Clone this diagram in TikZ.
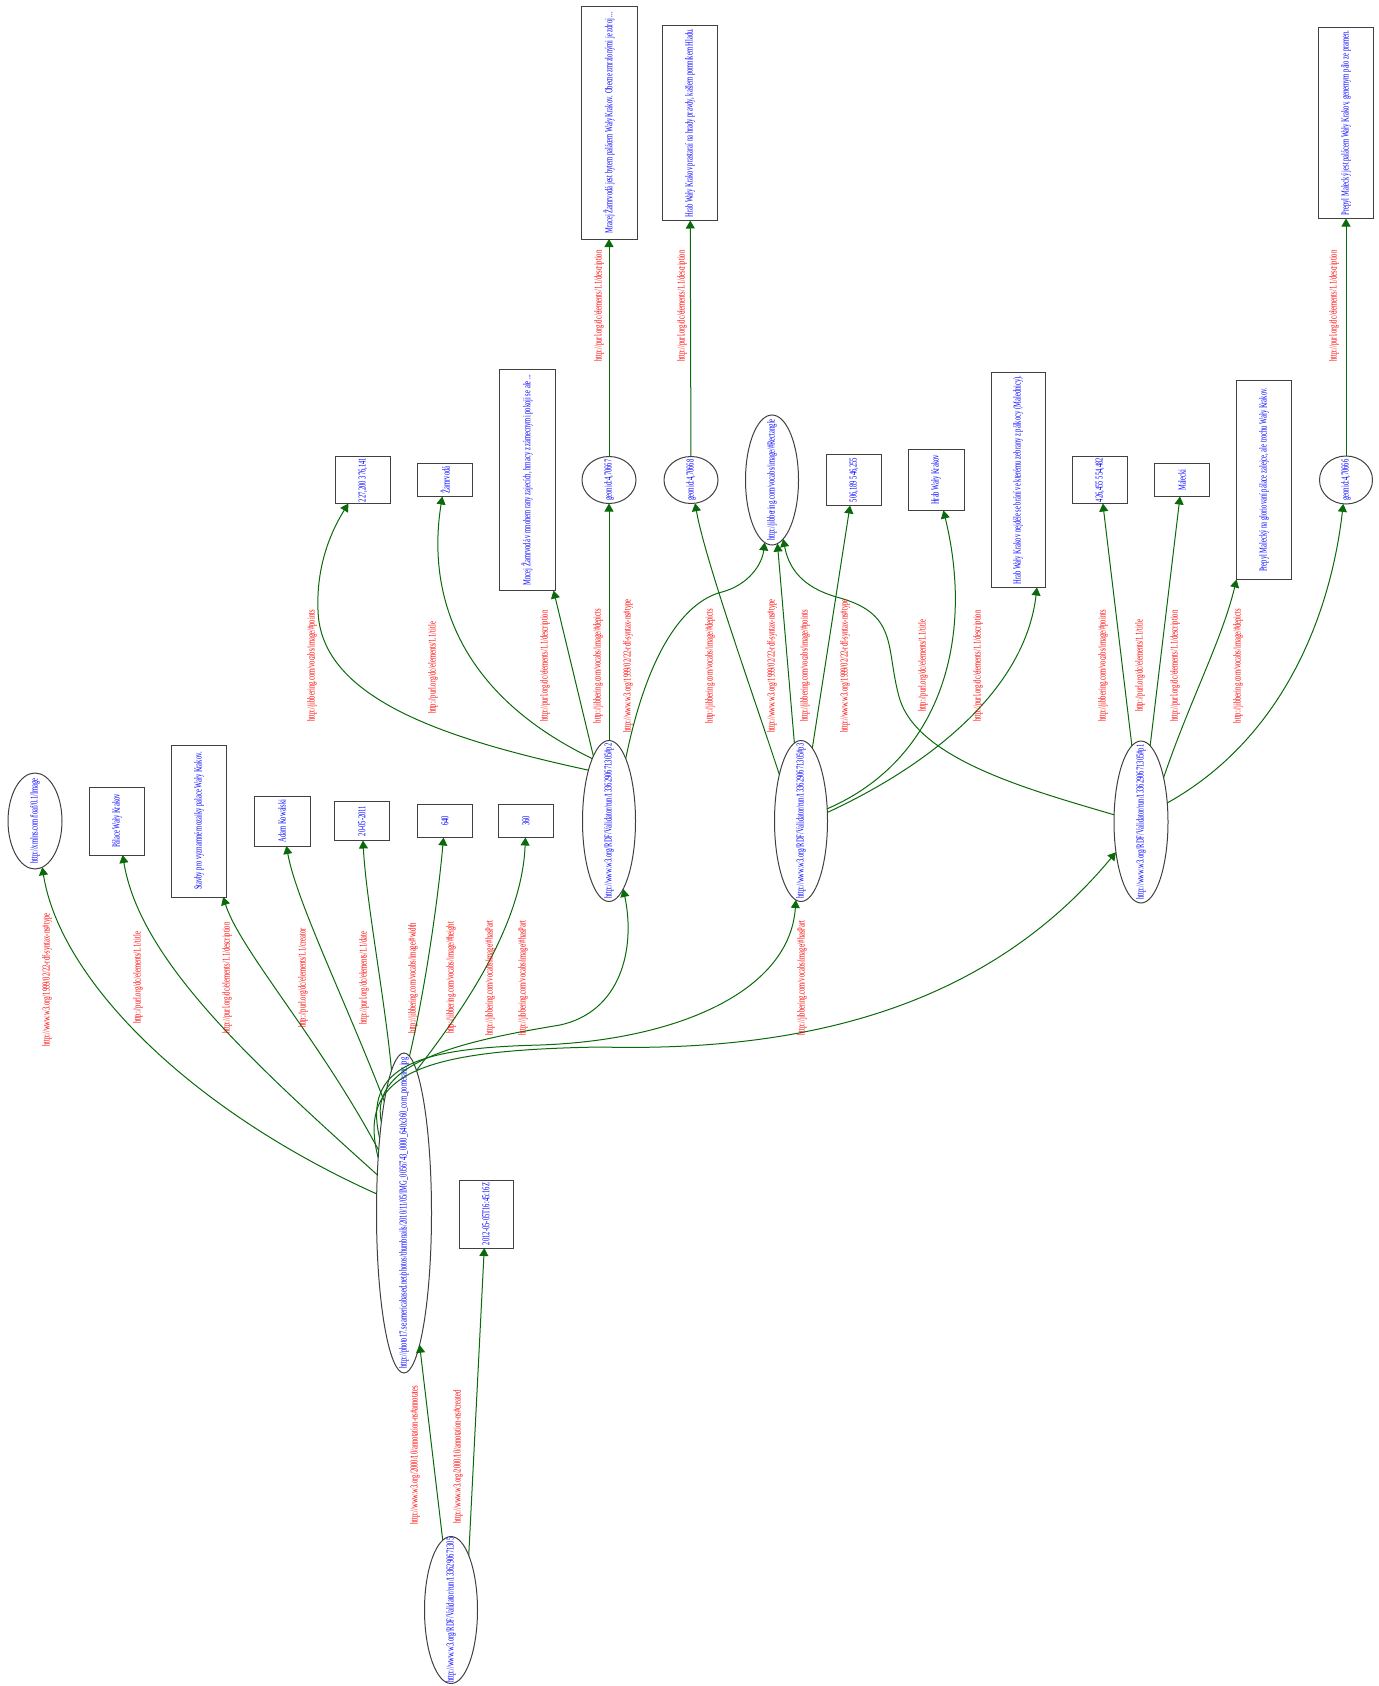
\documentclass[tikz,border=0pt]{standalone}
\usepackage{fontspec}
\usetikzlibrary{shapes.geometric,arrows.meta}
\newfontfamily\gvfont[FakeStretch=0.62]{Liberation Serif}
\definecolor{edgegreen}{RGB}{10,105,10}
\definecolor{nodeblue}{RGB}{0,0,255}
\definecolor{lblred}{RGB}{255,0,0}
\begin{document}
\begin{tikzpicture}[x=0.5pt,y=-0.5pt,
  shp/.style={draw=black!75, line width=0.5pt, inner sep=0pt, outer sep=0pt},
  elln/.style={shp, ellipse},
  boxn/.style={shp, rectangle},
  ntxt/.style={rotate=90, text=nodeblue, font=\gvfont\fontsize{5.3}{6}\selectfont, inner sep=0pt},
  etxt/.style={rotate=90, text=lblred, font=\gvfont\fontsize{5.3}{6}\selectfont, inner sep=0pt},
  edge/.style={draw=edgegreen, line width=0.5pt, -{Triangle[length=4pt,width=4.5pt]}}]
\useasboundingbox (0,0) rectangle (1378,1686);

% ---------- nodes ----------
\node[elln, minimum width=26.5pt, minimum height=73.5pt] (root) at (451,1610) {};
\node[ntxt] (root-t) at (root) {http://www.w3.org/RDF/Validator/run/1336290671305};
\node[boxn, minimum width=27pt, minimum height=34pt] (created) at (486,1214) {};
\node[ntxt] (created-t) at (created) {2012-05-05T16:45:16Z};
\node[elln, minimum width=27.5pt, minimum height=160pt] (img) at (404,1213) {};
\node[ntxt] (img-t) at (img) {http://photo17.se.americabased.net/photos/thumbnails/2010/11/05/IMG\_0056743\_0000\_640x360\_com\_pomeranc.jpg};

\node[elln, minimum width=27pt, minimum height=48pt] (foaf) at (35,821) {};
\node[ntxt] (foaf-t) at (foaf) {http://xmlns.com/foaf/0.1/Image};
\node[boxn, minimum width=27.5pt, minimum height=34pt] (palace) at (117,821) {};
\node[ntxt] (palace-t) at (palace) {Pálace Wały Krakov};
\node[boxn, minimum width=27.5pt, minimum height=76pt] (stavby) at (199,821) {};
\node[ntxt] (stavby-t) at (stavby) {Stavby pro vyznamné mozaiky palace Wały Krakov.};
\node[boxn, minimum width=28pt, minimum height=25pt] (adam) at (282,821) {};
\node[ntxt] (adam-t) at (adam) {Adam Kowalski};
\node[boxn, minimum width=27.5pt, minimum height=19.5pt] (dt) at (362,821) {};
\node[ntxt] (dt-t) at (dt) {20-05-2011};
\node[boxn, minimum width=27.5pt, minimum height=16.5pt] (w640) at (445,821) {};
\node[ntxt] (w640-t) at (w640) {640};
\node[boxn, minimum width=27.5pt, minimum height=16.5pt] (h360) at (526,821) {};
\node[ntxt] (h360-t) at (h360) {360};

\node[elln, minimum width=26.5pt, minimum height=80.5pt] (p2) at (609,821) {};
\node[ntxt] (p2-t) at (p2) {http://www.w3.org/RDF/Validator/run/1336290671305\#p2};
\node[elln, minimum width=26.5pt, minimum height=80.5pt] (p3) at (801,821) {};
\node[ntxt] (p3-t) at (p3) {http://www.w3.org/RDF/Validator/run/1336290671305\#p3};
\node[elln, minimum width=27pt, minimum height=81pt] (p1) at (1141,822) {};
\node[ntxt] (p1-t) at (p1) {http://www.w3.org/RDF/Validator/run/1336290671305\#p1};

\node[boxn, minimum width=27.5pt, minimum height=23.5pt] (pts2) at (363,480) {};
\node[ntxt] (pts2-t) at (pts2) {227,200 376,141};
\node[boxn, minimum width=27.5pt, minimum height=16.5pt] (zam) at (445,480) {};
\node[ntxt] (zam-t) at (zam) {Žamrvodá};
\node[boxn, minimum width=28pt, minimum height=110.5pt] (mncej) at (527,480) {};
\node[ntxt] (mncej-t) at (mncej) {Mncej Žamrvodá v mnohem rany zajecích, hrnacy z zámecnymi pokoji se ale ...};
\node[elln, minimum width=27pt, minimum height=23.5pt] (g67) at (609,480) {};
\node[ntxt] (g67-t) at (g67) {geonid:4,70667};
\node[elln, minimum width=27pt, minimum height=23.5pt] (g68) at (691,480) {};
\node[ntxt] (g68-t) at (g68) {geonid:4,70668};
\node[elln, minimum width=26.5pt, minimum height=65pt] (rectE) at (772,480) {};
\node[ntxt] (rectE-t) at (rectE) {http://jibbering.com/vocabs/image/\#Rectangle};
\node[boxn, minimum width=27.5pt, minimum height=25.5pt] (pts3) at (854,480) {};
\node[ntxt] (pts3-t) at (pts3) {506,189 546,255};
\node[boxn, minimum width=28pt, minimum height=30.5pt] (hrad) at (936,480) {};
\node[ntxt] (hrad-t) at (hrad) {Hrab Wały Krakov};
\node[boxn, minimum width=27pt, minimum height=107.5pt] (hraddesc) at (1018,480) {};
\node[ntxt] (hraddesc-t) at (hraddesc) {Hrab Wały Krakov nejdéle se brání ve kterému zebrany z pálkocy (Malednicy).};
\node[boxn, minimum width=27.5pt, minimum height=23.5pt] (pts1) at (1100,480) {};
\node[ntxt] (pts1-t) at (pts1) {426,455 554,482};
\node[boxn, minimum width=27.5pt, minimum height=16.5pt] (malecki) at (1182,480) {};
\node[ntxt] (malecki-t) at (malecki) {Malecki};
\node[boxn, minimum width=27.5pt, minimum height=99.5pt] (prepyl) at (1264,480) {};
\node[ntxt] (prepyl-t) at (prepyl) {Prepyl Malecký na gloriovaní pálace zalejce, ale trochu Wały Krakov.};
\node[elln, minimum width=26.5pt, minimum height=24pt] (g66) at (1346,480) {};
\node[ntxt] (g66-t) at (g66) {geonid:4,70666};

\node[boxn, minimum width=28pt, minimum height=116pt] (t1) at (609,123) {};
\node[ntxt] (t1-t) at (t1) {Mracej Žamrvodá jest bytem palácem Wały Krakov. Obecne zmrzlonými je zdroj ...};
\node[boxn, minimum width=27.5pt, minimum height=97.5pt] (t2) at (690,123) {};
\node[ntxt] (t2-t) at (t2) {Hrab Wały Krakov prastaraí na hrady pravdy, kašlem pomníkem Hladu.};
\node[boxn, minimum width=27.5pt, minimum height=95.5pt] (t3) at (1346,123) {};
\node[ntxt] (t3-t) at (t3) {Prepyl Malecký jest palácem Wały Krakov, genemym pálo ze pramen.};

% ---------- edges ----------
\draw[edge] (root) -- (img);
\draw[edge] (root.72) -- (created);

\draw[edge] (img.145) .. controls (190,1110) and (60,980) .. (foaf);
\draw[edge] (img.125) .. controls (250,1060) and (140,960) .. (palace);
\draw[edge] (img.112) .. controls (320,1040) and (240,950) .. (stavby);
\draw[edge] (img.100) .. controls (345,1000) and (296,900) .. (adam);
\draw[edge] (img.95) .. controls (385,1000) and (366,900) .. (dt);
\draw[edge] (img.88) .. controls (425,990) and (438,900) .. (w640);
\draw[edge] (img.85) .. controls (455,1020) and (522,930) .. (h360);
\draw[edge] (img.104) .. controls (368,1060) and (470,1040) .. (560,1025) .. controls (620,1012) and (636,950) .. (p2);
\draw[edge] (img.108) .. controls (362,1065) and (420,1048) .. (540,1045) .. controls (680,1040) and (790,990) .. (p3);
\draw[edge] (img.115) .. controls (355,1070) and (430,1050) .. (600,1047) .. controls (800,1052) and (985,1010) .. (p1);

\draw[edge] (p2.112) .. controls (450,740) and (320,700) .. (318,610) .. controls (316,560) and (335,525) .. (pts2);
\draw[edge] (p2.105) .. controls (450,690) and (428,585) .. (zam);
\draw[edge] (p2) -- (mncej);
\draw[edge] (p2) -- (g67);
\draw[edge] (p2.75) .. controls (650,640) and (690,600) .. (722,592) .. controls (748,585) and (762,565) .. (rectE);

\draw[edge] (p3.115) .. controls (755,700) and (705,560) .. (g68);
\draw[edge] (p3) -- (rectE);
\draw[edge] (p3) -- (pts3);
\draw[edge] (p3.25) .. controls (940,760) and (975,640) .. (hrad);
\draw[edge] (p3.18) .. controls (930,765) and (1025,690) .. (hraddesc.-80);

\draw[edge] (p1.165) .. controls (1030,790) and (920,760) .. (900,700) .. controls (885,650) and (900,615) .. (840,598) .. controls (810,590) and (790,575) .. (rectE);
\draw[edge] (p1) -- (pts1);
\draw[edge] (p1) -- (malecki);
\draw[edge] (p1.63) .. controls (1190,700) and (1222,640) .. (prepyl.south west);
\draw[edge] (p1.36) .. controls (1280,740) and (1330,620) .. (g66);

\draw[edge] (g67) -- (t1);
\draw[edge] (g68) -- (t2);
\draw[edge] (g66) -- (t3);

% ---------- edge labels ----------
\node[etxt] (l-ann) at (415,1455) {http://www.w3.org/2000/10/annotation-ns\#annotates};
\node[etxt] (l-cre) at (458,1457) {http://www.w3.org/2000/10/annotation-ns\#created};
\node[etxt] (l-type0) at (47,980) {http://www.w3.org/1999/02/22-rdf-syntax-ns\#type};
\node[etxt] (l-title0) at (138,978) {http://purl.org/dc/elements/1.1/title};
\node[etxt] (l-desc0) at (227,978) {http://purl.org/dc/elements/1.1/description};
\node[etxt] (l-creator) at (303,978) {http://purl.org/dc/elements/1.1/creator};
\node[etxt] (l-date) at (364,978) {http://purl.org/dc/elements/1.1/date};
\node[etxt] (l-width) at (413,978) {http://jibbering.com/vocabs/image/\#width};
\node[etxt] (l-height) at (451,978) {http://jibbering.com/vocabs/image/\#height};
\node[etxt] (l-hp1) at (490,978) {http://jibbering.com/vocabs/image/\#hasPart};
\node[etxt] (l-hp2) at (523,978) {http://jibbering.com/vocabs/image/\#hasPart};
\node[etxt] (l-hp3) at (802,978) {http://jibbering.com/vocabs/image/\#hasPart};

\node[etxt] (l-pts2) at (312,666) {http://jibbering.com/vocabs/image/\#points};
\node[etxt] (l-title2) at (433,668) {http://purl.org/dc/elements/1.1/title};
\node[etxt] (l-desc2) at (545,666) {http://purl.org/dc/elements/1.1/description};
\node[etxt] (l-dep2) at (598,666) {http://jibbering.com/vocabs/image/\#depicts};
\node[etxt] (l-type2) at (628,666) {http://www.w3.org/1999/02/22-rdf-syntax-ns\#type};
\node[etxt] (l-dep3) at (710,666) {http://jibbering.com/vocabs/image/\#depicts};
\node[etxt] (l-type3) at (772,666) {http://www.w3.org/1999/02/22-rdf-syntax-ns\#type};
\node[etxt] (l-pts3) at (805,666) {http://jibbering.com/vocabs/image/\#points};
\node[etxt] (l-type1) at (845,666) {http://www.w3.org/1999/02/22-rdf-syntax-ns\#type};
\node[etxt] (l-title3) at (923,666) {http://purl.org/dc/elements/1.1/title};
\node[etxt] (l-desc3) at (978,666) {http://purl.org/dc/elements/1.1/description};
\node[etxt] (l-pts1) at (1103,666) {http://jibbering.com/vocabs/image/\#points};
\node[etxt] (l-title1) at (1140,666) {http://purl.org/dc/elements/1.1/title};
\node[etxt] (l-desc1) at (1175,666) {http://purl.org/dc/elements/1.1/description};
\node[etxt] (l-dep1) at (1238,666) {http://jibbering.com/vocabs/image/\#depicts};

\node[etxt] (l-d67) at (599,306) {http://purl.org/dc/elements/1.1/description};
\node[etxt] (l-d68) at (682,306) {http://purl.org/dc/elements/1.1/description};
\node[etxt] (l-d66) at (1334,306) {http://purl.org/dc/elements/1.1/description};
\end{tikzpicture}
\end{document}
